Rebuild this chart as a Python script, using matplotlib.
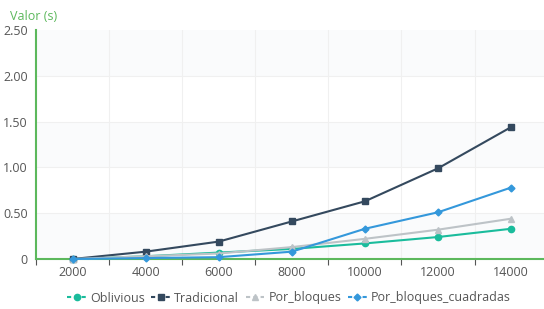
import numpy as np
import matplotlib
matplotlib.use('Agg')
import matplotlib.pyplot as plt
from matplotlib.lines import Line2D

# data
sizes = ['2000', '4000', '6000', '8000', '10000', '12000', '14000']
oblivious = [0.0, 0.03, 0.07, 0.11, 0.17, 0.24, 0.33]
tradicional = [0.0, 0.08, 0.19, 0.41, 0.63, 0.99, 1.44]
por_bloques = [0.0, 0.03, 0.06, 0.13, 0.22, 0.32, 0.44]
cuadradas = [0.0, 0.01, 0.02, 0.08, 0.33, 0.51, 0.78]
yticks = [0, 0.5, 1.0, 1.5, 2.0, 2.5]
ylabels = ['0', '0.50', '1.00', '1.50', '2.00', '2.50']

series = [
    ('Oblivious', oblivious, '#1abc9c', 'o'),
    ('Tradicional', tradicional, '#34495e', 's'),
    ('Por_bloques', por_bloques, '#bdc3c7', '^'),
    ('Por_bloques_cuadradas', cuadradas, '#3498db', 'D'),
]

plt.rcParams['font.family'] = ['Open Sans', 'DejaVu Sans']
green = '#5cb85c'

W, H = 544, 309
fig = plt.figure(figsize=(W/100, H/100), dpi=100)
ax = fig.add_axes([36/W, (H-259)/H, (W-36)/W, (259-30)/H])

x = np.arange(len(sizes))
ax.set_xlim(-0.5, 6.45)
ax.set_ylim(0, 2.5)

# background bands
for lo in [0, 1.0, 2.0]:
    ax.axhspan(lo, lo+0.5, color='#fafbfc', zorder=0, lw=0)
for yv in yticks[1:-1]:
    ax.axhline(yv, color='#f0f0f0', lw=0.8, zorder=1)
for xb in np.arange(0.5, 6.0, 1.0):
    ax.axvline(xb, color='#f0f0f0', lw=0.8, zorder=1)

for name, vals, col, mk in series:
    ms = 4.5 if mk != 'D' else 3.5
    ax.plot(x, vals, color=col, marker=mk, ms=ms, lw=1.5, zorder=3,
            clip_on=False, label=name)

ax.set_yticks(yticks)
ax.set_yticklabels(ylabels)
ax.set_xticks(x)
ax.set_xticklabels(sizes)
ax.set_xticks(np.arange(-0.5, 6.0, 1.0), minor=True)
ax.tick_params(axis='x', which='major', length=0, pad=5, labelsize=9, labelcolor='#555555')
ax.tick_params(axis='x', which='minor', length=4, color='#555555', width=0.8)
ax.tick_params(axis='y', length=0, pad=6, labelsize=9, labelcolor='#555555')

for s in ['top', 'right']:
    ax.spines[s].set_visible(False)
ax.spines['left'].set_color(green)
ax.spines['left'].set_linewidth(1.5)
ax.spines['bottom'].set_color(green)
ax.spines['bottom'].set_linewidth(1.5)

fig.text(10/W, 1-16/H, 'Valor (s)', color=green, fontsize=9, va='center', ha='left')

handles = [Line2D([0], [0], color=col, marker=mk, ls='--', lw=1.5,
                  ms=(4.5 if mk != 'D' else 3.5), dashes=(2, 1.5))
           for name, vals, col, mk in series]
fig.legend(handles, [s[0] for s in series], loc='center', bbox_to_anchor=(289/W, 1-298/H),
           ncol=4, frameon=False, fontsize=9, handlelength=1.5, handletextpad=0.35,
           columnspacing=0.5, labelcolor='#555555')

fig.savefig('out.png', dpi=100)
